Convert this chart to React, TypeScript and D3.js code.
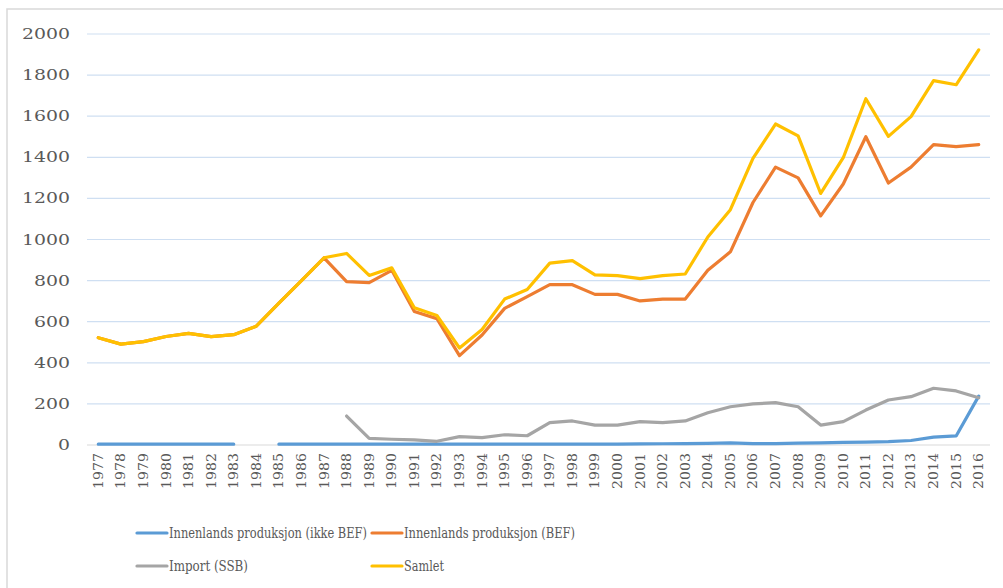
import React from "react";
import * as d3 from "d3";

const years = d3.range(1977, 2017).map(String);

// Innenlands produksjon (ikke BEF) - 1984 mangler
const ikkeBef: (number | null)[] = [
  4, 4, 4, 4, 4, 4, 4, null, 4, 4, 4, 4, 4, 4, 4, 4, 4, 4, 4, 4,
  4, 4, 4, 4, 5, 6, 7, 8, 10, 7, 7, 9, 10, 13, 14, 16, 22, 38, 44, 238,
];

// Innenlands produksjon (BEF)
const bef: (number | null)[] = [
  522, 491, 503, 528, 543, 527, 537, 578, 690, 800, 911, 795, 790, 850, 650, 615, 435, 535, 665, 722,
  780, 780, 733, 733, 701, 710, 710, 850, 940, 1180, 1352, 1300, 1115, 1270, 1500, 1275, 1352, 1462, 1452, 1462,
];

// Import (SSB) - fra 1988
const importSsb: (number | null)[] = [
  null, null, null, null, null, null, null, null, null, null, null, 141, 32, 28, 25, 18, 41, 36, 50, 45,
  109, 117, 97, 97, 114, 109, 117, 157, 186, 200, 206, 186, 97, 114, 170, 219, 235, 276, 263, 230,
];

// Samlet
const samlet: (number | null)[] = [
  522, 491, 503, 528, 543, 527, 537, 578, 690, 800, 911, 932, 825, 862, 668, 630, 472, 562, 710, 757,
  885, 897, 828, 824, 810, 824, 832, 1012, 1145, 1395, 1562, 1504, 1224, 1398, 1685, 1502, 1598, 1773, 1753, 1923,
];

const yTicks = [0, 200, 400, 600, 800, 1000, 1200, 1400, 1600, 1800, 2000];

const series = [
  { name: "Innenlands produksjon (ikke BEF)", values: ikkeBef, color: "#5B9BD5" },
  { name: "Innenlands produksjon (BEF)", values: bef, color: "#ED7D31" },
  { name: "Import (SSB)", values: importSsb, color: "#A5A5A5" },
  { name: "Samlet", values: samlet, color: "#FFC000" },
];

const W = 1003;
const H = 588;
const font = "DejaVu Serif, serif";
const legendFont = "DejaVu Serif Condensed, DejaVu Serif, serif";

export default function App() {
  const x = d3.scaleBand<string>().domain(years).range([87, 990]).padding(0);
  const y = d3.scaleLinear().domain([0, 2000]).range([445, 34]);
  const cx = (yr: string) => (x(yr) ?? 0) + x.bandwidth() / 2;

  const line = d3
    .line<number | null>()
    .defined((d) => d != null)
    .x((_, i) => cx(years[i]))
    .y((d) => y(d as number));

  // legend positions (2 columns x 2 rows)
  const legendCols = [137, 372];
  const legendRows = [533, 566];
  const legendWidths = [198, 171, 79, 40];

  return (
    <svg
      width={W}
      height={H}
      style={{ position: "absolute", left: 0, top: 0, background: "#fff" }}
    >
      <rect x={7} y={9} width={W} height={H} fill="#fff" stroke="#D9D9D9" strokeWidth={1.5} />

      {/* gridlines */}
      {yTicks.slice(1).map((t) => (
        <line
          key={t}
          x1={87}
          x2={990}
          y1={y(t)}
          y2={y(t)}
          stroke="#CFDFF2"
          strokeWidth={1.2}
        />
      ))}
      <line x1={87} x2={990} y1={y(0)} y2={y(0)} stroke="#D9D9D9" strokeWidth={1.2} />

      {/* y labels */}
      {yTicks.map((t) => {
        const s = String(t);
        return (
          <text
            key={t}
            x={70}
            y={y(t)}
            textAnchor="end"
            dominantBaseline="central"
            fontFamily={font}
            fontSize={14}
            fill="#595959"
            textLength={s.length * 12}
            lengthAdjust="spacingAndGlyphs"
          >
            {s}
          </text>
        );
      })}

      {/* x labels */}
      {years.map((yr) => (
        <text
          key={yr}
          transform={`translate(${cx(yr)},453) rotate(-90)`}
          textAnchor="end"
          dominantBaseline="central"
          fontFamily={font}
          fontSize={12.5}
          fill="#595959"
          textLength={36}
          lengthAdjust="spacingAndGlyphs"
        >
          {yr}
        </text>
      ))}

      {/* lines */}
      {series.map((s) => (
        <path
          key={s.name}
          d={line(s.values) ?? ""}
          fill="none"
          stroke={s.color}
          strokeWidth={3.2}
          strokeLinejoin="round"
          strokeLinecap="round"
        />
      ))}

      {/* legend */}
      {series.map((s, i) => {
        const lx = legendCols[i % 2];
        const ly = legendRows[Math.floor(i / 2)];
        return (
          <g key={s.name}>
            <line x1={lx} x2={lx + 30} y1={ly} y2={ly} stroke={s.color} strokeWidth={3.2} strokeLinecap="round" />
            <text
              x={lx + 32}
              y={ly}
              dominantBaseline="central"
              fontFamily={legendFont}
              fontSize={14.5}
              fill="#595959"
              textLength={legendWidths[i]}
              lengthAdjust="spacingAndGlyphs"
            >
              {s.name}
            </text>
          </g>
        );
      })}
    </svg>
  );
}
